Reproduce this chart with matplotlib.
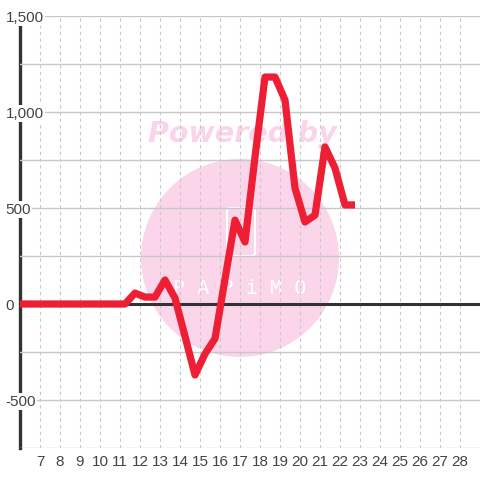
import numpy as np
import matplotlib
matplotlib.use("Agg")
import matplotlib.pyplot as plt
from matplotlib.patches import Circle, FancyBboxPatch

plt.rcParams['font.family'] = ['Liberation Sans', 'DejaVu Sans']

# data (half-step positions)
x_pos = np.arange(5.75, 23.0, 0.5)
values = [0, 0, 0, 0, 0, 0, 0, 0, 0, 0, 0, 0,
          57, 36, 36, 125, 31, -168, -370, -260, -180, 130, 437, 323,
          766, 1182, 1182, 1062, 604, 427, 463, 818, 708, 516, 516]
x_ticks = list(range(7, 29))
y_ticks = [-500, 0, 500, 1000, 1500]
y_labels = ['-500', '0', '500', '1,000', '1,500']

fig = plt.figure(figsize=(4.8, 4.8), dpi=100, facecolor='white')

# watermark behind the axes
fig.add_artist(Circle((240 / 480, 1 - 258 / 480), 99 / 480, transform=fig.transFigure,
                      facecolor='#fbd5ea', edgecolor='none', zorder=-2))
fig.text(242 / 480, 1 - 134 / 480, 'Powered by', ha='center', va='center',
         fontsize=20.5, fontweight='bold', style='italic', color='#fbd3ea',
         family='DejaVu Sans', zorder=-1)
fig.add_artist(FancyBboxPatch((227 / 480, 1 - 256 / 480), 28 / 480, 48 / 480,
                              boxstyle='round,pad=0,rounding_size=0.006',
                              transform=fig.transFigure, facecolor='none',
                              edgecolor='white', lw=1.5, zorder=-1))
fig.text(240 / 480, 1 - 289 / 480, 'P A P i M O', ha='center', va='center',
         fontsize=14.5, color='white', family='DejaVu Sans Mono', zorder=-1)

ax = fig.add_axes([20 / 480, 32 / 480, 460 / 480, 432 / 480])
ax.patch.set_alpha(0)
ax.set_axisbelow(True)

ax.plot(x_pos, values, color='#ee1f35', lw=5.2, solid_joinstyle='round',
        solid_capstyle='butt', zorder=3)
ax.axhline(0, color='#333333', lw=2.2, zorder=2)

ax.set_xlim(6, 29)
ax.set_ylim(-750, 1500)

ax.set_xticks(x_ticks)
ax.set_yticks(y_ticks)
ax.set_yticklabels(y_labels)
ax.set_yticks(np.arange(-750, 1501, 250), minor=True)

ax.grid(axis='y', which='both', color='#c8c8c8', lw=1)
ax.grid(axis='x', which='major', color='#c8c8c8', lw=0.8, linestyle=(0, (3, 3)))

for side in ['top', 'right', 'bottom']:
    ax.spines[side].set_visible(False)
ax.spines['left'].set_color('#333333')
ax.spines['left'].set_linewidth(2.4)
ax.spines['left'].set_zorder(0.4)

ax.tick_params(axis='both', which='both', length=0, labelsize=11, labelcolor='#444444')
ax.tick_params(axis='y', pad=10.5)
for lbl in ax.get_yticklabels():
    lbl.set_horizontalalignment('left')
    lbl.set_bbox(dict(facecolor='white', edgecolor='none', pad=1))
ax.tick_params(axis='x', pad=5)

fig.savefig('out.png', dpi=100)
